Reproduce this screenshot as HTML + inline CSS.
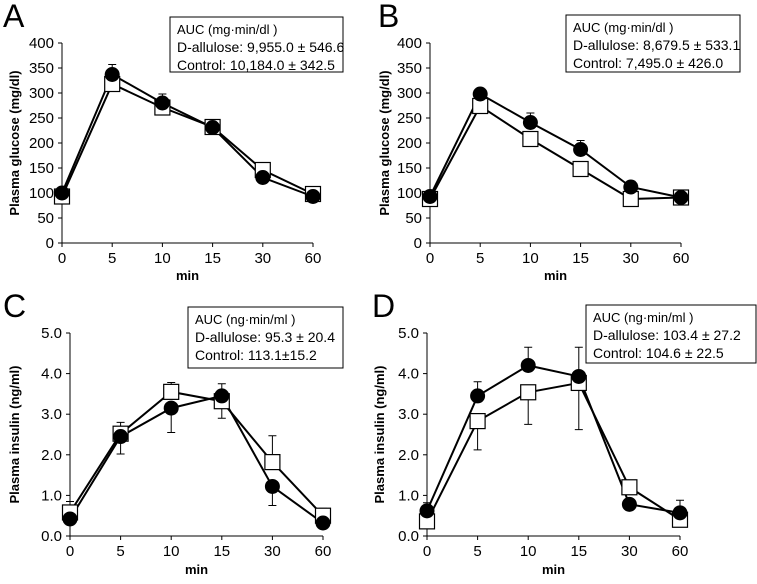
<!DOCTYPE html>
<html><head><meta charset="utf-8">
<style>
body{margin:0;background:#fff;}
svg text{font-family:"Liberation Sans",Arial,sans-serif;fill:#000;}
</style></head>
<body>
<svg id="fig" width="757" height="579" viewBox="0 0 757 579" xmlns="http://www.w3.org/2000/svg"></svg>
<script>
const categories=["0","5","10","15","30","60"];
const glucoseTicks=["0","50","100","150","200","250","300","350","400"];
const insulinTicks=["0.0","1.0","2.0","3.0","4.0","5.0"];
const aAllulose=[100,337,280,231,131,93];
const aAlluloseErr=[5,20,18,14,5,5];
const aControl=[93,318,271,232,146,98];
const aControlErr=[-5,-5,-5,-5,-5,-5];
const bAllulose=[93,298,241,187,112,91];
const bAlluloseErr=[5,8,19,18,6,4];
const bControl=[88,274,208,148,88,91];
const bControlErr=[-5,-5,-15,-15,-4,-4];
const cAllulose=[0.42,2.45,3.15,3.45,1.22,0.32];
const cAlluloseErr=[-0.1,-0.43,-0.6,-0.55,-0.47,-0.05];
const cControl=[0.58,2.52,3.55,3.32,1.82,0.5];
const cControlErr=[0.27,0.28,0.23,0.43,0.65,0.18];
const dAllulose=[0.62,3.45,4.2,3.93,0.78,0.57];
const dAlluloseErr=[0.2,0.35,0.45,0.72,0.05,0.31];
const dControl=[0.36,2.83,3.54,3.77,1.2,0.4];
const dControlErr=[-0.1,-0.71,-0.79,-1.15,-0.1,-0.05];

const NS="http://www.w3.org/2000/svg";
const svg=document.getElementById('fig');
function mk(tag,attrs,parent){const e=document.createElementNS(NS,tag);for(const k in attrs)e.setAttribute(k,attrs[k]);(parent||svg).appendChild(e);return e;}

const panels=[
 {id:"a",letter:"A",lx:3,x0:62,x1:313,y0:243,y1:43,max:400,ticks:glucoseTicks,title:"Plasma glucose (mg/dl)",tx:15,
  s1:aAllulose,e1:aAlluloseErr,s2:aControl,e2:aControlErr,box:[170,17,173,55],
  lines:["AUC (mg·min/dl )","D-allulose: 9,955.0 ± 546.6","Control: 10,184.0 ± 342.5"],xl:280},
 {id:"b",letter:"B",lx:378,x0:430,x1:681,y0:243,y1:43,max:400,ticks:glucoseTicks,title:"Plasma glucose (mg/dl)",tx:385,
  s1:bAllulose,e1:bAlluloseErr,s2:bControl,e2:bControlErr,box:[566,15,174,57],
  lines:["AUC (mg·min/dl )","D-allulose: 8,679.5 ± 533.1","Control: 7,495.0 ± 426.0"],xl:280},
 {id:"c",letter:"C",lx:3,x0:70,x1:323,y0:536,y1:333,max:5,ticks:insulinTicks,title:"Plasma insulin (ng/ml)",tx:15,
  s1:cAllulose,e1:cAlluloseErr,s2:cControl,e2:cControlErr,box:[188,307,155,61],
  lines:["AUC (ng·min/ml )","D-allulose: 95.3 ± 20.4","Control: 113.1±15.2"],xl:574},
 {id:"d",letter:"D",lx:372,x0:427,x1:680,y0:536,y1:333,max:5,ticks:insulinTicks,title:"Plasma insulin (ng/ml)",tx:380,
  s1:dAllulose,e1:dAlluloseErr,s2:dControl,e2:dControlErr,box:[586,305,170,58],
  lines:["AUC (ng·min/ml )","D-allulose: 103.4 ± 27.2","Control: 104.6 ± 22.5"],xl:574}
];

panels.forEach(p=>{
 const g=mk('g',{});
 
 
 const xs=i=>p.x0+(p.x1-p.x0)*i/(categories.length-1);
 const ys=v=>p.y0-(p.y0-p.y1)*v/p.max;
 const lt=mk('text',{x:p.lx,y:p.y1-16,'font-size':32},g);lt.textContent=p.letter;
 
 const ax=mk('path',{d:`M${p.x0},${p.y1}V${p.y0}H${p.x1}`,stroke:'#000',fill:'none','stroke-width':1},g);
 
 p.ticks.forEach((t,i)=>{const v=p.max*i/(p.ticks.length-1);const y=ys(v);
  mk('line',{x1:p.x0-4,x2:p.x0,y1:y,y2:y,stroke:'#000'},g);
  const tt=mk('text',{x:p.x0-8,y:y+5,'font-size':15,'text-anchor':'end'},g);tt.textContent=t;
  });
 categories.forEach((c,i)=>{const x=xs(i);
  mk('line',{x1:x,x2:x,y1:p.y0,y2:p.y0+4,stroke:'#000'},g);
  const tt=mk('text',{x:x,y:p.y0+20,'font-size':15,'text-anchor':'middle'},g);tt.textContent=c;
  });
 const xt=mk('text',{x:(p.x0+p.x1)/2,y:p.xl,'font-size':13,'font-weight':'bold','text-anchor':'middle'},g);xt.textContent='min';
 
 const cy=(p.y0+p.y1)/2;
 const yt=mk('text',{x:p.tx,y:cy,'font-size':13,'font-weight':'bold','text-anchor':'middle',transform:`rotate(-90 ${p.tx} ${cy})`,dy:4},g);yt.textContent=p.title;
 
 [[p.s2,p.e2],[p.s1,p.e1]].forEach(([s,e])=>{s.forEach((v,i)=>{const x=xs(i),y1=ys(v),y2=ys(v+e[i]);
  const eb=mk('path',{d:`M${x},${y1}V${y2}M${x-4},${y2}H${x+4}`,stroke:'#000',fill:'none'},g);
  });});
 [p.s2,p.s1].forEach(s=>{const l=mk('polyline',{points:s.map((v,i)=>xs(i)+','+ys(v)).join(' '),fill:'none',stroke:'#000','stroke-width':2},g);
  });
 p.s2.forEach((v,i)=>{const r=mk('rect',{x:xs(i)-7.5,y:ys(v)-7.5,width:15,height:15,fill:'#fff',stroke:'#000','stroke-width':1.2},g);
  });
 p.s1.forEach((v,i)=>{const c=mk('circle',{cx:xs(i),cy:ys(v),r:7.5,fill:'#000'},g);
  });
 const [bx,by,bw,bh]=p.box;
 const bg=mk('g',{},g);
 mk('rect',{x:bx,y:by,width:bw,height:bh,fill:'#fff',stroke:'#000'},bg);
 p.lines.forEach((t,i)=>{const tt=mk('text',{x:bx+7,y:by+17+i*18,'font-size':i==0?13:14},bg);tt.textContent=t;
  });
});
</script>
</body></html>
